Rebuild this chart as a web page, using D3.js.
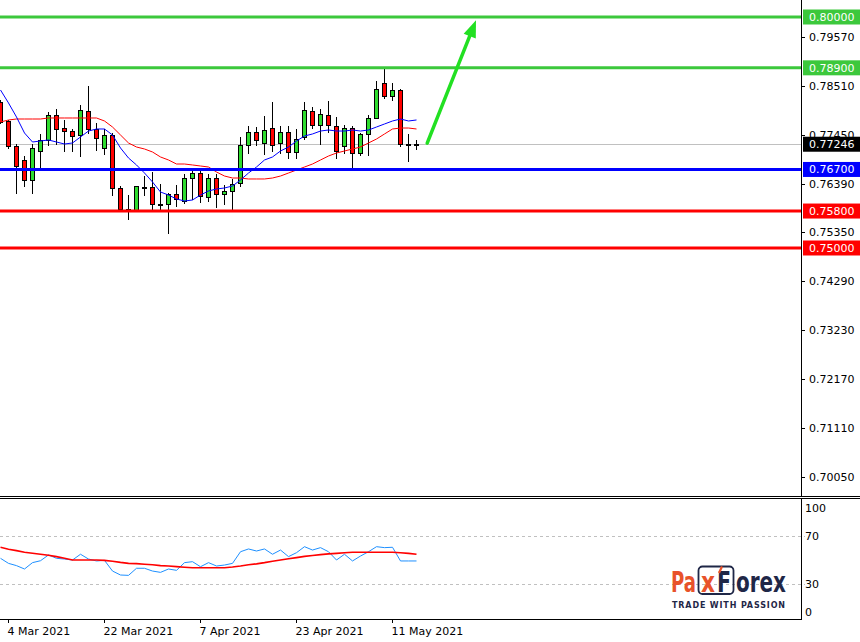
<!DOCTYPE html>
<html><head><meta charset="utf-8">
<script src="https://cdn.jsdelivr.net/npm/d3@7"></script>
<style>html,body{margin:0;padding:0;background:#fff;}svg{display:block;}text{font-family:Tahoma,"DejaVu Sans",sans-serif;}</style>
</head><body><svg id="c" width="860" height="642"></svg>
<script>
// ---------- DATA ----------
const dates = [
"2021-03-03","2021-03-04","2021-03-05","2021-03-08","2021-03-09","2021-03-10","2021-03-11","2021-03-12",
"2021-03-15","2021-03-16","2021-03-17","2021-03-18","2021-03-19","2021-03-22","2021-03-23","2021-03-24",
"2021-03-25","2021-03-26","2021-03-29","2021-03-30","2021-03-31","2021-04-01","2021-04-02","2021-04-05",
"2021-04-06","2021-04-07","2021-04-08","2021-04-09","2021-04-12","2021-04-13","2021-04-14","2021-04-15",
"2021-04-16","2021-04-19","2021-04-20","2021-04-21","2021-04-22","2021-04-23","2021-04-26","2021-04-27",
"2021-04-28","2021-04-29","2021-04-30","2021-05-03","2021-05-04","2021-05-05","2021-05-06","2021-05-07",
"2021-05-10","2021-05-11","2021-05-12","2021-05-13","2021-05-14"];
const open = [0.78160,0.77749,0.77208,0.76905,0.76472,0.77100,0.77338,0.77879,0.77597,0.77532,
0.77446,0.77965,0.77576,0.77165,0.77446,0.76299,0.75844,0.75823,0.76320,0.76320,
0.75952,0.75952,0.76169,0.76017,0.76515,0.76623,0.76104,0.76515,0.76169,0.76234,
0.76407,0.77229,0.77511,0.77273,0.77597,0.77273,0.77511,0.77078,0.77403,0.77965,
0.77662,0.77879,0.77641,0.77208,0.77597,0.77056,0.77468,0.77814,0.78571,0.78290,
0.78420,0.77251,0.77251];
const high = [0.78203,0.77771,0.77251,0.76991,0.77251,0.77468,0.77944,0.78009,0.77771,0.77576,
0.78095,0.78506,0.77706,0.77576,0.77489,0.76342,0.76147,0.76342,0.76558,0.76645,
0.76385,0.76190,0.76364,0.76602,0.76732,0.76732,0.76602,0.76602,0.76364,0.76494,
0.77403,0.77641,0.77619,0.77857,0.78160,0.77641,0.77641,0.77576,0.78160,0.78052,
0.78009,0.78182,0.77835,0.77662,0.77641,0.77489,0.77879,0.78615,0.78874,0.78571,
0.78442,0.77468,0.77338];
const low = [0.77706,0.77165,0.76190,0.76342,0.76190,0.76732,0.77229,0.77251,0.77100,0.77100,
0.76991,0.77489,0.77121,0.77035,0.76147,0.75823,0.75628,0.75823,0.76147,0.75844,
0.75844,0.75325,0.75909,0.75974,0.76061,0.75996,0.76017,0.75887,0.75952,0.75844,
0.76342,0.77056,0.77229,0.77035,0.77100,0.77056,0.76948,0.76948,0.77359,0.77597,
0.77251,0.77511,0.76948,0.77056,0.76732,0.77013,0.77013,0.77814,0.78247,0.78203,
0.77208,0.76883,0.77143];
const close = [0.77727,0.77208,0.76775,0.76472,0.77165,0.77338,0.77879,0.77576,0.77532,0.77424,
0.77987,0.77576,0.77381,0.77446,0.76299,0.75844,0.75823,0.76342,0.76320,0.75952,
0.75952,0.76169,0.76061,0.76515,0.76623,0.76126,0.76515,0.76169,0.76234,0.76385,
0.77229,0.77511,0.77338,0.77554,0.77229,0.77511,0.77078,0.77359,0.77987,0.77662,
0.77900,0.77662,0.77100,0.77597,0.77056,0.77468,0.77814,0.78442,0.78290,0.78420,
0.77251,0.77251,0.77246];
const maFast = [0.78420,0.78139,0.77835,0.77489,0.77294,0.77316,0.77338,0.77294,0.77251,0.77273,
0.77403,0.77532,0.77576,0.77576,0.77446,0.77165,0.76948,0.76797,0.76623,0.76429,
0.76212,0.76147,0.76061,0.76017,0.76039,0.76147,0.76234,0.76277,0.76299,0.76342,
0.76472,0.76623,0.76753,0.76905,0.76970,0.77100,0.77186,0.77316,0.77424,0.77468,
0.77532,0.77554,0.77532,0.77532,0.77554,0.77532,0.77554,0.77619,0.77684,0.77749,
0.77792,0.77749,0.77771];
const maSlow = [0.77727,0.77771,0.77792,0.77792,0.77792,0.77792,0.77814,0.77814,0.77814,0.77814,
0.77814,0.77814,0.77814,0.77749,0.77619,0.77446,0.77273,0.77186,0.77143,0.77078,
0.76970,0.76905,0.76818,0.76818,0.76797,0.76775,0.76753,0.76645,0.76558,0.76515,
0.76515,0.76494,0.76494,0.76494,0.76515,0.76558,0.76623,0.76688,0.76753,0.76818,
0.76905,0.76991,0.77056,0.77100,0.77143,0.77186,0.77273,0.77359,0.77468,0.77576,
0.77597,0.77597,0.77576];
const osc = [51.4,47.2,45.3,42.5,47.8,49.4,54.2,51.4,50.8,50.0,
54.8,50.8,49.2,49.7,40.8,37.5,37.2,43.1,43.1,40.8,
39.7,42.5,41.4,47.8,48.6,44.4,47.8,45.0,45.8,47.2,
56.9,59.2,57.5,59.2,54.8,58.3,52.8,56.1,61.1,58.3,
60.3,56.9,50.0,54.8,49.2,53.3,56.9,61.1,60.3,60.6,
49.2,49.2,49.2];
const oscSignal = [60.6,59.0,57.8,56.5,55.6,54.8,53.9,52.8,51.4,50.0,
50.0,50.0,50.0,49.7,49.0,48.0,47.2,47.0,46.5,46.0,
45.3,45.0,44.5,44.0,43.6,43.6,43.6,43.6,43.6,44.2,
45.0,46.0,46.8,47.8,49.0,50.0,51.0,52.0,53.0,53.8,
54.5,55.1,55.5,56.0,56.4,56.4,56.4,56.4,56.4,56.4,
56.0,55.5,54.8];
const priceTicks = [0.79570,0.78510,0.77450,0.76390,0.75350,0.74290,0.73230,0.72170,0.71110,0.70050];
const levels = [0.80000,0.78900,0.76700,0.75800,0.75000];
const levelKinds = ["target","target","support","stop","stop"];
const currentPrice = 0.77246;
const dateTicks = ["2021-03-04","2021-03-22","2021-04-07","2021-04-23","2021-05-11"];
const dateTickLabels = ["4 Mar 2021","22 Mar 2021","7 Apr 2021","23 Apr 2021","11 May 2021"];
const oscTicks = [100,70,30,0];
const oscGuides = [70,30];
const arrowFrom = {i:53.4, p:0.7727};
const arrowTo = {i:59.5, p:0.7993};

// ---------- STYLE / LAYOUT ----------
const kindColor = {target:"#3cc83c", support:"#0000ff", stop:"#ff0000"};
const bullFill = "#2fdc2f", bearFill = "#ff0000";
const axisX = 802, mainBottom = 496;
const svg = d3.select("#c");
const x = d3.scalePoint().domain(dates).range([0,416]);
const xi = d3.scaleLinear().domain([0,dates.length-1]).range([0,416]);
const y = d3.scaleLinear().domain([0.69675,0.80368]).range([494,0]);
const ys = d3.scaleLinear().domain([0,100]).range([620,500]);
const idx = d3.range(dates.length);

// frame
svg.append("line").attr("x1",0).attr("x2",860).attr("y1",496.5).attr("y2",496.5).attr("stroke","#000");
svg.append("line").attr("x1",0).attr("x2",860).attr("y1",498.5).attr("y2",498.5).attr("stroke","#000");
svg.append("line").attr("x1",axisX-0.5).attr("x2",axisX-0.5).attr("y1",0).attr("y2",mainBottom).attr("stroke","#000");
svg.append("line").attr("x1",axisX-0.5).attr("x2",axisX-0.5).attr("y1",498).attr("y2",620).attr("stroke","#000");
svg.append("line").attr("x1",0).attr("x2",axisX).attr("y1",619.5).attr("y2",619.5).attr("stroke","#000");

// current price line (behind candles)
svg.append("line").attr("x1",0).attr("x2",axisX-1)
  .attr("y1",Math.round(y(currentPrice))+0.5).attr("y2",Math.round(y(currentPrice))+0.5)
  .attr("stroke","#c0c0c0").attr("stroke-width",1);

// candles
const cg = svg.append("g");
idx.forEach(i=>{
  const cx = Math.round(x(dates[i]));
  cg.append("line").attr("x1",cx+0.5).attr("x2",cx+0.5)
    .attr("y1",Math.round(y(high[i]))).attr("y2",Math.round(y(low[i]))+1)
    .attr("stroke","#000").attr("stroke-width",1);
  const yo = Math.round(y(open[i])), yc = Math.round(y(close[i]));
  const top = Math.min(yo,yc), bot = Math.max(yo,yc);
  const fill = close[i]>open[i] ? bullFill : (close[i]<open[i] ? bearFill : "#000");
  cg.append("rect").attr("x",cx-1.5).attr("y",top+0.5).attr("width",4).attr("height",Math.max(bot-top,1))
    .attr("fill", bot-top<=1 ? "#000" : fill).attr("stroke","#000").attr("stroke-width",1);
});

// moving averages
const lineP = arr => d3.line().x((d,i)=>x(dates[i])+0.5).y(d=>y(d))(arr);
svg.append("path").attr("d",lineP(maSlow)).attr("fill","none").attr("stroke","#ff0000").attr("stroke-width",1);
svg.append("path").attr("d",lineP(maFast)).attr("fill","none").attr("stroke","#0000ff").attr("stroke-width",1);

// level lines
levels.forEach((lv,k)=>{
  svg.append("line").attr("x1",0).attr("x2",axisX-1).attr("y1",y(lv)).attr("y2",y(lv))
    .attr("stroke",kindColor[levelKinds[k]]).attr("stroke-width",3);
});

// arrow
(function(){
  const x1 = xi(arrowFrom.i), y1 = y(arrowFrom.p), x2 = xi(arrowTo.i), y2 = y(arrowTo.p);
  const dx = x2-x1, dy = y2-y1, L = Math.hypot(dx,dy), ux = dx/L, uy = dy/L;
  const hl = 17, hw = 6.5;
  const bx = x2-ux*hl, by = y2-uy*hl;
  svg.append("line").attr("x1",x1).attr("y1",y1).attr("x2",bx+ux*2).attr("y2",by+uy*2)
    .attr("stroke","#22e022").attr("stroke-width",3.5).attr("stroke-linecap","round");
  svg.append("path").attr("d",`M${x2},${y2}L${bx-uy*hw},${by+ux*hw}L${bx+uy*hw},${by-ux*hw}Z`)
    .attr("fill","#22e022");
})();

// price axis
const ag = svg.append("g").style("font-size","11px");
priceTicks.forEach(p=>{
  const yy = Math.round(y(p))+0.5;
  ag.append("line").attr("x1",axisX).attr("x2",axisX+3).attr("y1",yy).attr("y2",yy).attr("stroke","#000");
  ag.append("text").attr("x",809).attr("y",yy).attr("dy","0.36em").attr("fill","#000").text(d3.format(".5f")(p));
});
function tag(p,color){
  const yy = y(p);
  ag.append("rect").attr("x",axisX+1).attr("y",yy-7.5).attr("width",57).attr("height",15).attr("fill",color);
  ag.append("text").attr("x",809).attr("y",yy).attr("dy","0.36em").attr("fill","#fff").text(d3.format(".5f")(p));
}
levels.forEach((lv,k)=>tag(lv,kindColor[levelKinds[k]]));
tag(currentPrice,"#000");

// date axis
const dg = svg.append("g").style("font-size","11px");
dateTicks.forEach((d,k)=>{
  const xx = Math.round(x(d))+0.5;
  dg.append("line").attr("x1",xx).attr("x2",xx).attr("y1",619).attr("y2",623).attr("stroke","#000");
  dg.append("text").attr("x",xx-1).attr("y",635).attr("fill","#000").text(dateTickLabels[k]);
});

// oscillator panel
oscGuides.forEach(v=>{
  svg.append("line").attr("x1",0).attr("x2",axisX+3).attr("y1",Math.round(ys(v))+0.5).attr("y2",Math.round(ys(v))+0.5)
    .attr("stroke","#c0c0c0").attr("stroke-dasharray","3,3");
});
const lineS = arr => d3.line().x((d,i)=>x(dates[i])+0.5).y(d=>ys(d))(arr);
svg.append("path").attr("d",lineS(osc)).attr("fill","none").attr("stroke","#1e90ff").attr("stroke-width",1);
svg.append("path").attr("d",lineS(oscSignal)).attr("fill","none").attr("stroke","#ff0000").attr("stroke-width",1.6);
oscTicks.forEach(v=>{
  let yy = ys(v); if (v===100) yy += 8; if (v===0) yy -= 8;
  svg.append("text").attr("x",805).attr("y",yy).attr("dy","0.36em").style("font-size","11px").attr("fill","#000").text(v);
});

// logo
(function(){
  const orange = "#e8522a", navy = "#1f2747";
  const g = svg.append("g").style("font-family","'Open Sans',Lato,sans-serif").style("font-size","28px").style("font-weight","600");
  const piece = (txt, x0, w, col) => g.append("text").attr("x",x0).attr("y",592).attr("fill",col)
      .attr("textLength",w).attr("lengthAdjust","spacingAndGlyphs").text(txt);
  piece("Pa", 671, 25, orange);
  piece("x", 701, 14, orange);
  piece("F", 717, 14, navy);
  piece("orex", 736, 50, navy);
  g.append("rect").attr("x",698.5).attr("y",566.5).attr("width",35).attr("height",27.5).attr("rx",4)
    .attr("fill","none").attr("stroke",navy).attr("stroke-width",1.8);
  g.append("line").attr("x1",719).attr("y1",573).attr("x2",722).attr("y2",566.5)
    .attr("stroke",orange).attr("stroke-width",2.2);
  g.append("text").attr("x",672).attr("y",607.5).attr("textLength",113).attr("lengthAdjust","spacing")
    .style("font-family","'DejaVu Sans',sans-serif").style("font-size","8px").style("font-weight","bold")
    .attr("fill",navy).text("TRADE WITH PASSION");
})();
</script></body></html>
